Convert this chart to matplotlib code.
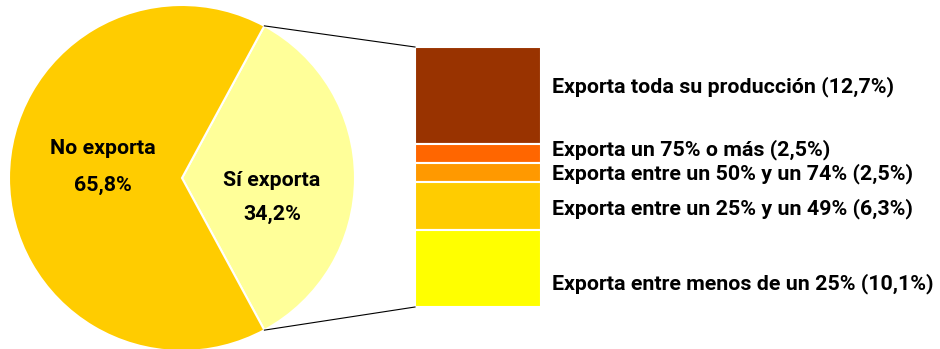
import numpy as np
import matplotlib
matplotlib.use("Agg")
import matplotlib.pyplot as plt

plt.rcParams['font.family'] = ['Roboto', 'DejaVu Sans']

# pie: share of firms that export
pie_labels = ["Sí exporta", "No exporta"]
pie_values = [34.2, 65.8]
pie_colors = ["#FFFF99", "#FFCC00"]

# breakdown of the exporting firms, top to bottom
bar_labels = [
    "Exporta toda su producción (12,7%)",
    "Exporta un 75% o más (2,5%)",
    "Exporta entre un 50% y un 74% (2,5%)",
    "Exporta entre un 25% y un 49% (6,3%)",
    "Exporta entre menos de un 25% (10,1%)",
]
bar_values = [12.7, 2.5, 2.5, 6.3, 10.1]
bar_colors = ["#993300", "#FF6600", "#FF9900", "#FFCC00", "#FFFF00"]
label_shift = [1.1, 0.55, -0.1, -0.4, -2.0]   # nudges in % units

fig = plt.figure(figsize=(9.4, 3.49), dpi=100)
ax = fig.add_axes([0, 0, 1, 1])

cx, cy, r = 182, 171, 173
half = pie_values[0] * 3.6 / 2
ax.pie(pie_values, colors=pie_colors, center=(cx, cy), radius=r,
       startangle=-half, counterclock=True,
       wedgeprops=dict(edgecolor="white", linewidth=1.5), frame=True)
ax.set_xlim(0, 940)
ax.set_ylim(0, 349)
ax.set_aspect("equal")
ax.axis("off")

fs = 15.4
fw = "semibold"
ax.text(103, 349 - 148, "No exporta", ha="center", va="center", fontsize=fs, fontweight=fw)
ax.text(103, 349 - 185, "65,8%", ha="center", va="center", fontsize=fs, fontweight=fw)
ax.text(272, 349 - 181, "Sí exporta", ha="center", va="center", fontsize=fs, fontweight=fw)
ax.text(272, 349 - 214, "34,2%", ha="center", va="center", fontsize=fs, fontweight=fw)

# stacked column, scaled to pixel units
bar_x, bar_w = 415, 126
bar_bottom, bar_top = 42, 302
scale = (bar_top - bar_bottom) / sum(bar_values)
tops = bar_top - np.concatenate([[0], np.cumsum(bar_values)[:-1]]) * scale
heights = np.array(bar_values) * scale
bottoms = tops - heights
ax.bar(np.full(len(bar_values), bar_x), heights, width=bar_w, bottom=bottoms,
       align="edge", color=bar_colors, edgecolor="white", linewidth=1.5)

for lab, b, h, s in zip(bar_labels, bottoms, heights, label_shift):
    ax.text(552, b + h / 2 + s * scale, lab, ha="left", va="center",
            fontsize=fs, fontweight=fw)

# connector lines from the slice edges to the column
a = np.deg2rad(half)
ax.plot([cx + r * np.cos(a), bar_x], [cy + r * np.sin(a), bar_top], color="black", lw=0.8)
ax.plot([cx + r * np.cos(a), bar_x], [cy - r * np.sin(a), bar_bottom], color="black", lw=0.8)

fig.savefig("out.png", dpi=100)
